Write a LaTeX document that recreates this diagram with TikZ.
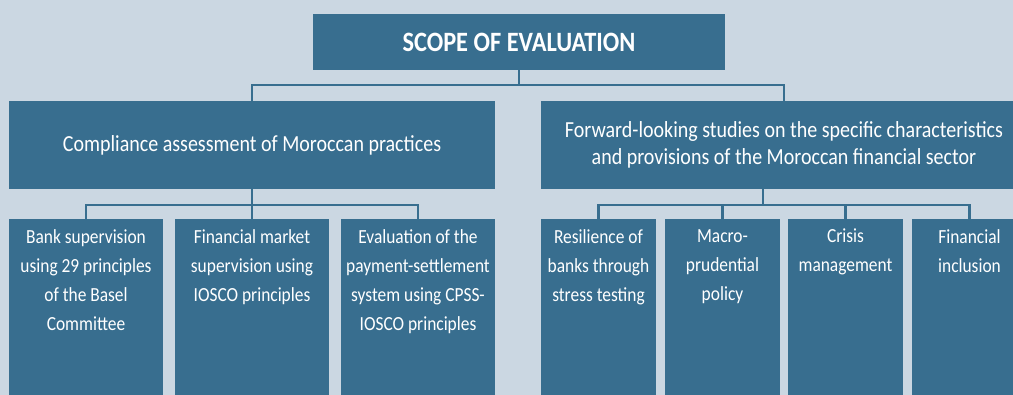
\documentclass[tikz,border=0pt]{standalone}
\usepackage{fontspec}
\setmainfont{Carlito}[FakeStretch=0.87]
\usepackage{tikz}
\usetikzlibrary{positioning}
\definecolor{scopeblue}{RGB}{56,110,143}
\definecolor{scopebg}{RGB}{203,215,226}

\begin{document}
\begin{tikzpicture}[x=1pt, y=-1pt,
          topbox/.style={fill=scopeblue, text=white, minimum width=412pt,
                         minimum height=56pt, font=\fontsize{28}{32}\selectfont\bfseries},
          midbox/.style={fill=scopeblue, text=white, minimum width=486pt,
                         minimum height=88pt, align=center,
                         font=\fontsize{23}{27}\selectfont},
          leafbox/.style={fill=scopeblue, anchor=north, minimum height=190pt},
          leaftext/.style={text=white, align=center, inner sep=0pt,
                           font=\fontsize{20}{29}\selectfont},
          link/.style={draw=scopeblue, line width=2.4pt}]
          \useasboundingbox (0,0) rectangle (1013,395);
          \clip (0,0) rectangle (1013,395);
          \fill[scopebg] (0,0) rectangle (1013,395);
          % levels 1 and 2
          \node[topbox] (scope) at (519,42) {SCOPE OF EVALUATION};
          \node[midbox] (comp) at (252,145) {Compliance assessment of Moroccan practices};
          \node[midbox] (fwd) at (784,145) {Forward-looking studies on the specific characteristics\\and provisions of the Moroccan financial sector};
          \coordinate (fwddrop) at (763,189);
          % level 3, left
          \node[leafbox, minimum width=154pt] (bank) at (86,219) {};
          \node[leafbox, minimum width=154pt] (market) at (252,219) {};
          \node[leafbox, minimum width=154pt] (payment) at (418,219) {};
          % level 3, right
          \node[leafbox, minimum width=115pt] (resil) at (598.5,219) {};
          \node[leafbox, minimum width=115pt] (macro) at (722.5,219) {};
          \node[leafbox, minimum width=115pt] (crisis) at (845.5,219) {};
          \node[leafbox, minimum width=115pt] (incl) at (969.5,219) {};
          % texts
          \node[leaftext, below=10pt of bank.north] (banktxt) {Bank supervision\\using 29 principles\\of the Basel\\Committee};
          \node[leaftext, below=10pt of market.north] (markettxt) {Financial market\\supervision using\\IOSCO principles};
          \node[leaftext, below=10pt of payment.north] (paymenttxt) {Evaluation of the\\payment-settlement\\system using CPSS-\\IOSCO principles};
          \node[leaftext, below=10pt of resil.north] (resiltxt) {Resilience of\\banks through\\stress testing};
          \node[leaftext, below=10pt of macro.north] (macrotxt) {Macro-\\prudential\\policy};
          \node[leaftext, below=10pt of crisis.north] (crisistxt) {Crisis\\management};
          \node[leaftext, below=10pt of incl.north] (incltxt) {Financial\\inclusion};
          % connectors
          \draw[link] (scope.south) -- ++(0,15) -| (comp.north);
          \draw[link] (scope.south) -- ++(0,15) -| (fwd.north);
          \draw[link] (comp.south) -- ++(0,16) -| (bank.north);
          \draw[link] (comp.south) -- ++(0,16) -| (market.north);
          \draw[link] (comp.south) -- ++(0,16) -| (payment.north);
          \draw[link] (fwddrop) -- ++(0,16) -| (resil.north);
          \draw[link] (fwddrop) -- ++(0,16) -| (macro.north);
          \draw[link] (fwddrop) -- ++(0,16) -| (crisis.north);
          \draw[link] (fwddrop) -- ++(0,16) -| (incl.north);
        \end{tikzpicture}
\end{document}
